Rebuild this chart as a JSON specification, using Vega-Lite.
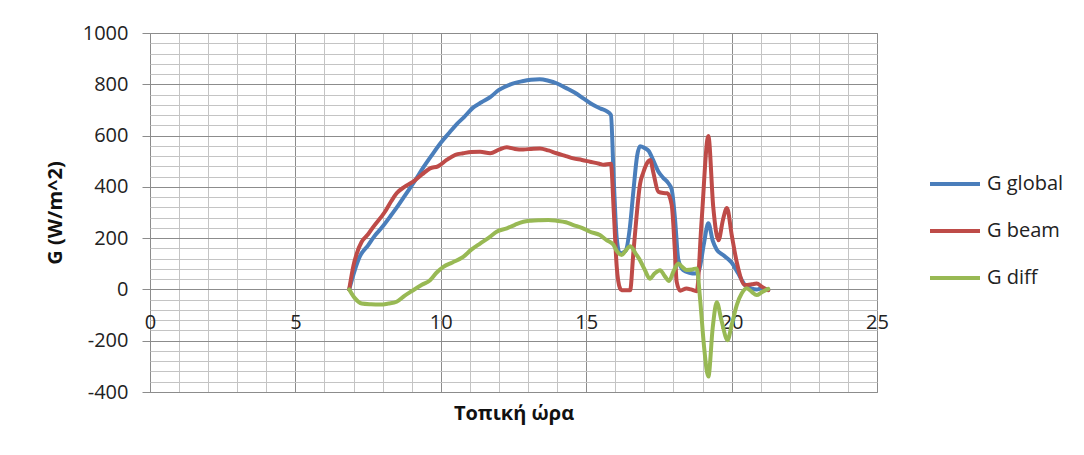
{
 "$schema": "https://vega.github.io/schema/vega-lite/v6.json",
 "width": 727, "height": 359,
 "autosize": {"type": "none"},
 "padding": {"left": 150, "top": 33, "right": 207, "bottom": 63},
 "background": "#ffffff",
 "config": {"font": "Open Sans", "view": {"stroke": "#8c8c8c", "strokeWidth": 1}},
 "datasets": {
  "pts": [
   {"t":6.85,"G":0,"s":"G global"},{"t":7.0,"G":60,"s":"G global"},{"t":7.2,"G":125,"s":"G global"},{"t":7.5,"G":172,"s":"G global"},{"t":7.7,"G":205,"s":"G global"},{"t":8.0,"G":245,"s":"G global"},{"t":8.25,"G":283,"s":"G global"},{"t":8.5,"G":322,"s":"G global"},{"t":8.8,"G":372,"s":"G global"},{"t":9.1,"G":422,"s":"G global"},{"t":9.4,"G":476,"s":"G global"},{"t":9.7,"G":525,"s":"G global"},{"t":10.0,"G":572,"s":"G global"},{"t":10.3,"G":612,"s":"G global"},{"t":10.55,"G":645,"s":"G global"},{"t":10.8,"G":672,"s":"G global"},{"t":11.1,"G":708,"s":"G global"},{"t":11.4,"G":730,"s":"G global"},{"t":11.7,"G":750,"s":"G global"},{"t":12.0,"G":778,"s":"G global"},{"t":12.4,"G":800,"s":"G global"},{"t":12.8,"G":812,"s":"G global"},{"t":13.1,"G":818,"s":"G global"},{"t":13.4,"G":820,"s":"G global"},{"t":13.7,"G":814,"s":"G global"},{"t":14.0,"G":803,"s":"G global"},{"t":14.3,"G":786,"s":"G global"},{"t":14.6,"G":768,"s":"G global"},{"t":14.9,"G":745,"s":"G global"},{"t":15.2,"G":722,"s":"G global"},{"t":15.5,"G":705,"s":"G global"},{"t":15.7,"G":695,"s":"G global"},{"t":15.85,"G":680,"s":"G global"},{"t":15.95,"G":420,"s":"G global"},{"t":16.05,"G":200,"s":"G global"},{"t":16.16,"G":140,"s":"G global"},{"t":16.35,"G":150,"s":"G global"},{"t":16.5,"G":240,"s":"G global"},{"t":16.62,"G":380,"s":"G global"},{"t":16.75,"G":520,"s":"G global"},{"t":16.85,"G":558,"s":"G global"},{"t":17.0,"G":552,"s":"G global"},{"t":17.15,"G":540,"s":"G global"},{"t":17.3,"G":505,"s":"G global"},{"t":17.48,"G":460,"s":"G global"},{"t":17.65,"G":435,"s":"G global"},{"t":17.82,"G":415,"s":"G global"},{"t":17.94,"G":390,"s":"G global"},{"t":18.05,"G":280,"s":"G global"},{"t":18.17,"G":115,"s":"G global"},{"t":18.34,"G":75,"s":"G global"},{"t":18.55,"G":65,"s":"G global"},{"t":18.75,"G":62,"s":"G global"},{"t":18.88,"G":75,"s":"G global"},{"t":19.05,"G":180,"s":"G global"},{"t":19.2,"G":258,"s":"G global"},{"t":19.35,"G":190,"s":"G global"},{"t":19.49,"G":155,"s":"G global"},{"t":19.72,"G":133,"s":"G global"},{"t":20.0,"G":105,"s":"G global"},{"t":20.23,"G":62,"s":"G global"},{"t":20.46,"G":17,"s":"G global"},{"t":20.7,"G":3,"s":"G global"},{"t":20.86,"G":0,"s":"G global"},{"t":21.05,"G":5,"s":"G global"},{"t":21.26,"G":-2,"s":"G global"},

   {"t":6.85,"G":0,"s":"G beam"},{"t":7.0,"G":95,"s":"G beam"},{"t":7.11,"G":140,"s":"G beam"},{"t":7.28,"G":186,"s":"G beam"},{"t":7.5,"G":215,"s":"G beam"},{"t":7.68,"G":244,"s":"G beam"},{"t":8.08,"G":303,"s":"G beam"},{"t":8.3,"G":345,"s":"G beam"},{"t":8.48,"G":375,"s":"G beam"},{"t":8.75,"G":400,"s":"G beam"},{"t":9.05,"G":420,"s":"G beam"},{"t":9.35,"G":448,"s":"G beam"},{"t":9.63,"G":472,"s":"G beam"},{"t":9.9,"G":480,"s":"G beam"},{"t":10.2,"G":505,"s":"G beam"},{"t":10.5,"G":525,"s":"G beam"},{"t":10.77,"G":531,"s":"G beam"},{"t":11.05,"G":536,"s":"G beam"},{"t":11.35,"G":537,"s":"G beam"},{"t":11.7,"G":531,"s":"G beam"},{"t":12.0,"G":545,"s":"G beam"},{"t":12.27,"G":554,"s":"G beam"},{"t":12.55,"G":548,"s":"G beam"},{"t":12.84,"G":546,"s":"G beam"},{"t":13.1,"G":548,"s":"G beam"},{"t":13.41,"G":550,"s":"G beam"},{"t":13.7,"G":542,"s":"G beam"},{"t":13.98,"G":531,"s":"G beam"},{"t":14.3,"G":520,"s":"G beam"},{"t":14.56,"G":511,"s":"G beam"},{"t":14.85,"G":505,"s":"G beam"},{"t":15.13,"G":498,"s":"G beam"},{"t":15.45,"G":490,"s":"G beam"},{"t":15.6,"G":486,"s":"G beam"},{"t":15.85,"G":490,"s":"G beam"},{"t":15.95,"G":300,"s":"G beam"},{"t":16.05,"G":88,"s":"G beam"},{"t":16.16,"G":5,"s":"G beam"},{"t":16.22,"G":-3,"s":"G beam"},{"t":16.51,"G":-3,"s":"G beam"},{"t":16.62,"G":140,"s":"G beam"},{"t":16.73,"G":283,"s":"G beam"},{"t":16.85,"G":410,"s":"G beam"},{"t":16.96,"G":455,"s":"G beam"},{"t":17.14,"G":500,"s":"G beam"},{"t":17.2,"G":505,"s":"G beam"},{"t":17.31,"G":455,"s":"G beam"},{"t":17.48,"G":381,"s":"G beam"},{"t":17.65,"G":376,"s":"G beam"},{"t":17.79,"G":375,"s":"G beam"},{"t":17.94,"G":330,"s":"G beam"},{"t":18.05,"G":150,"s":"G beam"},{"t":18.11,"G":30,"s":"G beam"},{"t":18.23,"G":-5,"s":"G beam"},{"t":18.45,"G":4,"s":"G beam"},{"t":18.6,"G":0,"s":"G beam"},{"t":18.8,"G":-7,"s":"G beam"},{"t":18.97,"G":270,"s":"G beam"},{"t":19.2,"G":598,"s":"G beam"},{"t":19.37,"G":320,"s":"G beam"},{"t":19.55,"G":192,"s":"G beam"},{"t":19.7,"G":270,"s":"G beam"},{"t":19.84,"G":318,"s":"G beam"},{"t":20.0,"G":215,"s":"G beam"},{"t":20.18,"G":105,"s":"G beam"},{"t":20.46,"G":17,"s":"G beam"},{"t":20.7,"G":20,"s":"G beam"},{"t":20.86,"G":23,"s":"G beam"},{"t":21.05,"G":10,"s":"G beam"},{"t":21.26,"G":-3,"s":"G beam"},

   {"t":6.85,"G":0,"s":"G diff"},{"t":7.05,"G":-35,"s":"G diff"},{"t":7.28,"G":-55,"s":"G diff"},{"t":7.6,"G":-58,"s":"G diff"},{"t":7.91,"G":-59,"s":"G diff"},{"t":8.2,"G":-55,"s":"G diff"},{"t":8.48,"G":-48,"s":"G diff"},{"t":8.75,"G":-25,"s":"G diff"},{"t":9.05,"G":-3,"s":"G diff"},{"t":9.35,"G":18,"s":"G diff"},{"t":9.63,"G":36,"s":"G diff"},{"t":9.85,"G":65,"s":"G diff"},{"t":10.09,"G":88,"s":"G diff"},{"t":10.4,"G":105,"s":"G diff"},{"t":10.77,"G":127,"s":"G diff"},{"t":11.05,"G":155,"s":"G diff"},{"t":11.35,"G":179,"s":"G diff"},{"t":11.69,"G":205,"s":"G diff"},{"t":11.92,"G":225,"s":"G diff"},{"t":12.27,"G":238,"s":"G diff"},{"t":12.55,"G":252,"s":"G diff"},{"t":12.84,"G":264,"s":"G diff"},{"t":13.1,"G":268,"s":"G diff"},{"t":13.41,"G":270,"s":"G diff"},{"t":13.7,"G":271,"s":"G diff"},{"t":13.98,"G":268,"s":"G diff"},{"t":14.3,"G":262,"s":"G diff"},{"t":14.56,"G":251,"s":"G diff"},{"t":14.85,"G":240,"s":"G diff"},{"t":15.13,"G":225,"s":"G diff"},{"t":15.47,"G":212,"s":"G diff"},{"t":15.7,"G":192,"s":"G diff"},{"t":15.93,"G":175,"s":"G diff"},{"t":16.05,"G":150,"s":"G diff"},{"t":16.22,"G":134,"s":"G diff"},{"t":16.35,"G":150,"s":"G diff"},{"t":16.51,"G":168,"s":"G diff"},{"t":16.7,"G":140,"s":"G diff"},{"t":16.85,"G":114,"s":"G diff"},{"t":17.0,"G":80,"s":"G diff"},{"t":17.19,"G":42,"s":"G diff"},{"t":17.35,"G":62,"s":"G diff"},{"t":17.54,"G":75,"s":"G diff"},{"t":17.7,"G":52,"s":"G diff"},{"t":17.85,"G":33,"s":"G diff"},{"t":18.0,"G":70,"s":"G diff"},{"t":18.17,"G":101,"s":"G diff"},{"t":18.3,"G":88,"s":"G diff"},{"t":18.45,"G":76,"s":"G diff"},{"t":18.65,"G":78,"s":"G diff"},{"t":18.8,"G":82,"s":"G diff"},{"t":18.92,"G":-42,"s":"G diff"},{"t":19.05,"G":-220,"s":"G diff"},{"t":19.2,"G":-340,"s":"G diff"},{"t":19.35,"G":-150,"s":"G diff"},{"t":19.49,"G":-50,"s":"G diff"},{"t":19.65,"G":-120,"s":"G diff"},{"t":19.86,"G":-198,"s":"G diff"},{"t":20.0,"G":-140,"s":"G diff"},{"t":20.18,"G":-60,"s":"G diff"},{"t":20.35,"G":-15,"s":"G diff"},{"t":20.52,"G":5,"s":"G diff"},{"t":20.7,"G":-10,"s":"G diff"},{"t":20.86,"G":-22,"s":"G diff"},{"t":21.05,"G":-10,"s":"G diff"},{"t":21.26,"G":2,"s":"G diff"}
  ]
 },
 "data": {"name": "pts"},
 "mark": {"type": "line", "strokeWidth": 4, "interpolate": "monotone", "strokeCap": "round", "strokeJoin": "round"},
 "encoding": {
  "x": {
   "field": "t", "type": "quantitative",
   "scale": {"domain": [0, 25], "nice": false, "zero": false},
   "axis": {
    "values": [0,1,2,3,4,5,6,7,8,9,10,11,12,13,14,15,16,17,18,19,20,21,22,23,24,25],
    "labelExpr": "datum.value % 5 === 0 ? '' + datum.value : ''",
    "grid": true,
    "gridColor": {"condition": {"test": "datum.value % 5 === 0", "value": "#8c8c8c"}, "value": "#c4c4c4"},
    "gridWidth": 1,
    "ticks": false, "tickSize": 0, "domain": false,
    "offset": -103,
    "labelPadding": 23, "labelFontSize": 20, "labelColor": "#222222", "labelFlush": false, "labelOverlap": false,
    "title": "Τοπική ώρα", "titleFontSize": 20, "titleFontWeight": "bold", "titleColor": "#111111",
    "titleY": 124, "titleBaseline": "middle"
   }
  },
  "y": {
   "field": "G", "type": "quantitative",
   "scale": {"domain": [-400, 1000], "nice": false, "zero": false},
   "axis": {
    "values": [-400,-360,-320,-280,-240,-200,-160,-120,-80,-40,0,40,80,120,160,200,240,280,320,360,400,440,480,520,560,600,640,680,720,760,800,840,880,920,960,1000],
    "labelExpr": "datum.value % 200 === 0 ? '' + datum.value : ''",
    "grid": true,
    "gridColor": {"condition": {"test": "datum.value % 200 === 0", "value": "#8c8c8c"}, "value": "#c4c4c4"},
    "gridWidth": 1,
    "tickColor": {"condition": {"test": "datum.value % 200 === 0", "value": "#8c8c8c"}, "value": "transparent"},
    "tickSize": 8, "domain": false,
    "labelPadding": 14, "labelFontSize": 20, "labelColor": "#222222", "labelFlush": false, "labelOverlap": false,
    "title": "G (W/m^2)", "titleFontSize": 20, "titleFontWeight": "bold", "titleColor": "#111111",
    "titleX": -95, "titleBaseline": "middle"
   }
  },
  "color": {
   "field": "s", "type": "nominal",
   "scale": {"domain": ["G global", "G beam", "G diff"], "range": ["#4a7ebb", "#be4b48", "#98b954"]},
   "legend": {
    "title": null, "orient": "none", "legendX": 778, "legendY": 124,
    "symbolType": "stroke", "symbolSize": 2500, "symbolStrokeWidth": 4,
    "labelFontSize": 20, "labelColor": "#222222", "labelOffset": 5, "rowPadding": 10, "padding": 0
   }
  }
 }
}
